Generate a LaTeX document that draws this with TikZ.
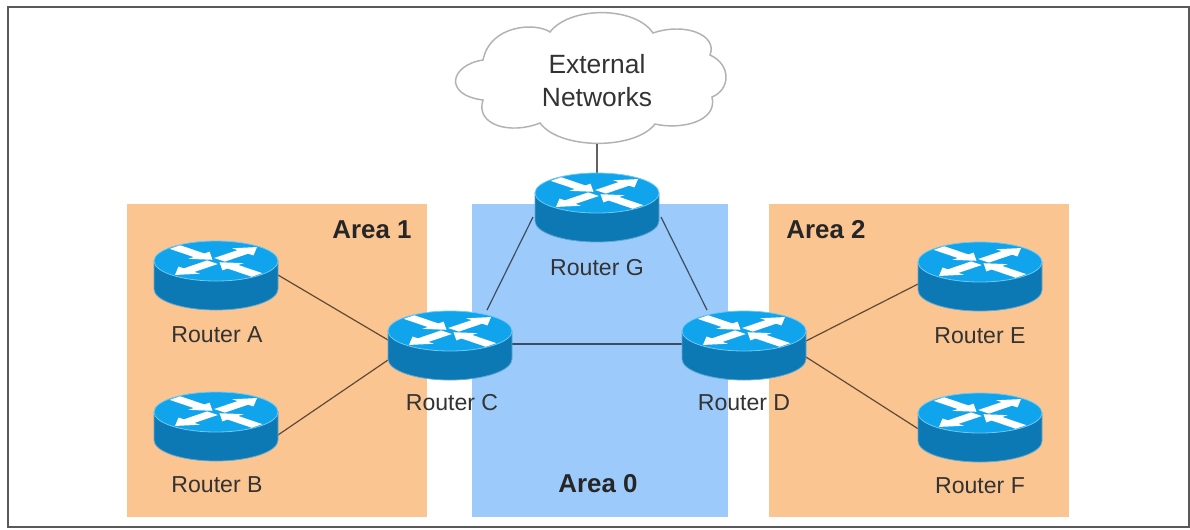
\documentclass[tikz,border=0pt]{standalone}
\usepackage{fontspec}
\setmainfont{Liberation Sans}
\definecolor{areaorange}{HTML}{FBC592}
\definecolor{areablue}{HTML}{9CCBFB}
\definecolor{rtop}{HTML}{10A4EC}
\definecolor{rside}{HTML}{0C78B4}
\definecolor{labelc}{HTML}{333333}
\newcommand{\arrowshape}{(5,-7.5) -- (38,-7.5) -- (38,-15) -- (58,0) -- (38,15) -- (38,7.5) -- (5,7.5) -- cycle}
\newcommand{\inshape}{(58,-7.5) -- (24,-7.5) -- (24,-15) -- (5,0) -- (24,15) -- (24,7.5) -- (58,7.5) -- cycle}
\newcommand{\routerat}[3]{%
  \coordinate (#1) at (#2,#3);
  \begin{scope}[shift={(#1)}]
    \fill[rside,draw=rside!65!white,line width=.6pt] (-62,0) -- (-62,28) arc[x radius=62,y radius=21,start angle=180,end angle=0] -- (62,0) -- cycle;
    \fill[rtop,draw=rtop!60!white,line width=.6pt] (0,0) ellipse[x radius=62,y radius=20];
    \begin{scope}[yscale=.34]
      \fill[white,rotate=45] \arrowshape;
      \fill[white,rotate=225] \arrowshape;
      \fill[white,rotate=135] \inshape;
      \fill[white,rotate=-45] \inshape;
    \end{scope}
  \end{scope}}
\tikzset{
  routerlabel/.style={font=\fontsize{17.3}{20}\selectfont,text=labelc,inner sep=0pt},
  arealabel/.style={font=\fontsize{19.4}{23}\selectfont\bfseries,text=black!85,inner sep=0pt},
  link/.style={draw=black,opacity=.62,line width=.9pt}
}
\begin{document}
\begin{tikzpicture}[x=0.75pt,y=-0.75pt]
\useasboundingbox (0,0) rectangle (1190,529);
\fill[white] (0,0) rectangle (1190,529);
\draw[black!65,line width=1pt] (8,7) rectangle (1189,527);
% areas
\fill[areaorange] (127,204) rectangle (427,517);
\fill[areablue] (472,204) rectangle (728,517);
\fill[areaorange] (769,204) rectangle (1069,517);
% cloud
\draw[black!30,fill=white,line width=1.1pt] (483,60)
  .. controls (490,25) and (535,22) .. (550,32)
  .. controls (570,6) and (635,6) .. (653,33)
  .. controls (685,22) and (718,35) .. (710,55)
  .. controls (732,65) and (730,90) .. (712,97)
  .. controls (718,122) and (680,130) .. (655,124)
  .. controls (635,150) and (560,150) .. (540,123)
  .. controls (510,135) and (475,125) .. (483,100)
  .. controls (443,95) and (450,65) .. (483,60) -- cycle;
\coordinate (cloudb) at (597,144);
\node[font=\fontsize{19.8}{24.75}\selectfont,text=labelc,align=center,inner sep=0pt] (ext) at (597,81) {External\\Networks};
% connector ports
\coordinate (Gtop) at (597,180);
\coordinate (Ae) at (278,275);
\coordinate (Be) at (278,435);
\coordinate (Cw1) at (388,340);
\coordinate (Cw2) at (388,360);
\coordinate (Cn) at (487,310);
\coordinate (Ce) at (512,344);
\coordinate (Gsw) at (533,217);
\coordinate (Gse) at (661,217);
\coordinate (Dn) at (707,310);
\coordinate (Dw) at (682,344);
\coordinate (De1) at (806,341);
\coordinate (De2) at (806,357);
\coordinate (Ew) at (920,283);
\coordinate (Fw) at (920,430);
% links
\draw[link] (cloudb) -- (Gtop);
\draw[link] (Ae) -- (Cw1);
\draw[link] (Be) -- (Cw2);
\draw[link] (Cn) -- (Gsw);
\draw[link] (Gse) -- (Dn);
\draw[link] (Ce) -- (Dw);
\draw[link] (De1) -- (Ew);
\draw[link] (De2) -- (Fw);
% routers
\routerat{A}{216}{261}
\routerat{B}{216}{412}
\routerat{C}{450}{331}
\routerat{D}{744}{331}
\routerat{E}{980}{262}
\routerat{F}{980}{413}
\routerat{G}{597}{193}
\node[routerlabel] (la) at (217,335) {Router A};
\node[routerlabel] (lb) at (217,485) {Router B};
\node[routerlabel] (lc) at (452,403) {Router C};
\node[routerlabel] (ld) at (744,403) {Router D};
\node[routerlabel] (le) at (980,336) {Router E};
\node[routerlabel] (lf) at (980,486) {Router F};
\node[routerlabel] (lg) at (597,268) {Router G};
\node[arealabel] (a1) at (372,230) {Area 1};
\node[arealabel] (a2) at (826,230) {Area 2};
\node[arealabel] (a0) at (598,484) {Area 0};
\end{tikzpicture}
\end{document}
